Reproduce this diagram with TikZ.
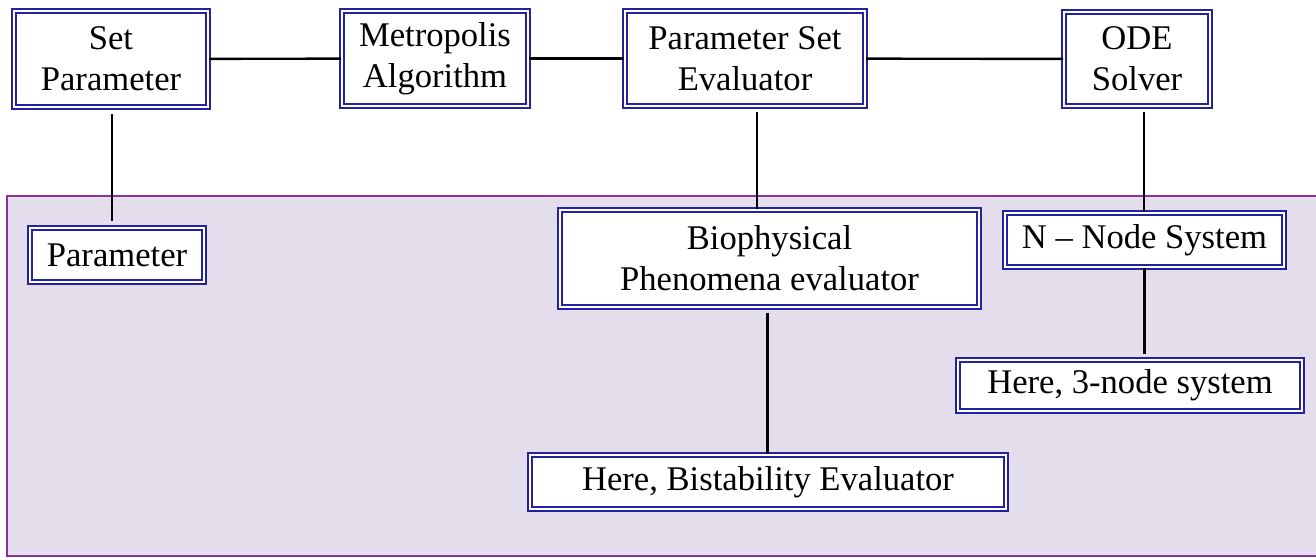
\documentclass[tikz,border=0pt]{standalone}
\usepackage{fontspec}
\setmainfont{Liberation Serif}
\usepackage{tikz}
\usetikzlibrary{positioning}
\definecolor{boxblue}{RGB}{35,35,160}
\definecolor{panelfill}{RGB}{228,222,236}
\definecolor{panelline}{RGB}{140,50,150}

\begin{document}
\begin{tikzpicture}[x=0.5pt, y=-0.5pt,
    block/.style={draw=boxblue, double=white, line width=1pt,
                  double distance=0.6pt, fill=white, align=center, inner sep=0pt,
                  font=\fontsize{17.3}{20.5}\selectfont},
    link/.style={line width=1.2pt, black}]
    \useasboundingbox (0,0) rectangle (1316,557);
    \fill[panelfill, draw=panelline, line width=1pt] (7,196) rectangle (1330,556);

    \node[block, minimum width=97pt, minimum height=48pt] (setpar) at (111,59) {Set\\Parameter};
    \node[block, minimum width=93pt, minimum height=47.5pt] (metro) at (435,58.5) {Metropolis\\Algorithm};
    \node[block, minimum width=120pt, minimum height=47.5pt] (pse) at (745,58.5) {Parameter Set\\Evaluator};
    \node[block, minimum width=73pt, minimum height=47pt] (ode) at (1137,59) {ODE\\Solver};

    \node[block, minimum width=87pt, minimum height=27pt] (param) at (117,255) {Parameter};
    \node[block, minimum width=209.5pt, minimum height=48.5pt] (bio) at (769.5,258.5)
      {Biophysical\\Phenomena evaluator};
    \node[block, minimum width=139.5pt, minimum height=27pt] (nnode) at (1144.5,240) {N -- Node System};
    \node[block, minimum width=172pt, minimum height=25.5pt] (three) at (1130,385.5) {Here, 3-node system};
    \node[block, minimum width=238pt, minimum height=27pt] (bistab) at (768,482) {Here, Bistability Evaluator};

    \draw[link] (setpar) -- (metro);
    \draw[link] (metro) -- (pse);
    \draw[link] (pse) -- (ode);
    \draw[link, shorten <=3pt, shorten >=3pt] ([xshift=0.5pt]setpar.south) -- ([xshift=0.5pt]setpar.south |- param.north);
    \draw[link, shorten <=2.5pt] ([xshift=6pt]pse.south) -- ([xshift=6pt]pse.south |- bio.north);
    \draw[link, shorten <=2.5pt] ([xshift=3.5pt]ode.south) -- ([xshift=3.5pt]ode.south |- nnode.north);
    \draw[link, shorten >=2.5pt] (nnode.south) -- (nnode.south |- three.north);
    \draw[link, shorten <=2.5pt] ([xshift=-1pt]bio.south) -- ([xshift=-1pt]bio.south |- bistab.north);
  \end{tikzpicture}
\end{document}
